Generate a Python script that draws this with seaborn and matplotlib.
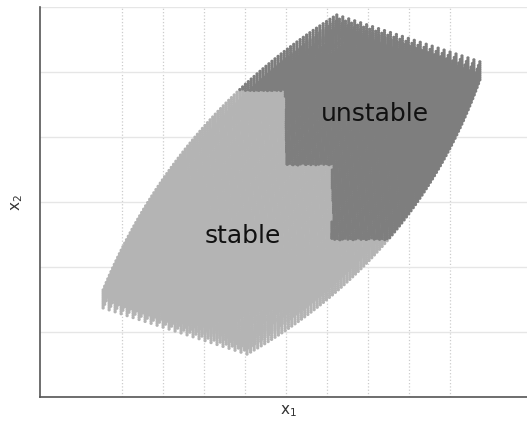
import numpy as np
import pandas as pd
import matplotlib
matplotlib.use("Agg")
import matplotlib.pyplot as plt
import seaborn as sns

# ---- data (data units: x1, x2) ----
corner_bl = [1.54, 1.37]
corner_br = [5.05, 0.66]
corner_tl = [7.24, 5.60]
corner_tr = [10.73, 4.88]
bulge_left = [-0.55, 0.28]
bulge_right = [0.64, -0.32]
n_s, n_t, n_u = 25, 95, 10
streak_height = 0.277
# staircase boundary of the unstable set: point is unstable if x>=xmin and y>=ymin for any pair
unstable_x_min = [-99.0, 5.98, 7.12]
unstable_y_min = [4.71, 3.57, 2.42]
region_names = ["stable", "unstable"]
region_colors = ["#b4b4b4", "#7e7e7e"]
label_x = [4.94, 8.17]
label_y = [2.37, 4.24]
x_ticks = [2, 3, 4, 5, 6, 7, 8, 9, 10]
y_ticks = [0, 1, 2, 3, 4, 5, 6]
x_limits = [0, 11.88]
y_limits = [0, 6]

# ---- build the lattice of states ----
s = np.linspace(0, 1, n_s)
t = np.linspace(0, 1, n_t)
u = np.linspace(0, 1, n_u)
S, T, U = np.meshgrid(s, t, u, indexing="ij")
S, T, U = S.ravel(), T.ravel(), U.ravel()
bl, br, tl, tr = map(np.array, (corner_bl, corner_br, corner_tl, corner_tr))
bgl, bgr = np.array(bulge_left), np.array(bulge_right)
w = 4 * T * (1 - T)
L = np.outer(1 - T, bl) + np.outer(T, tl) + np.outer(w, bgl)
R = np.outer(1 - T, br) + np.outer(T, tr) + np.outer(w, bgr)
P = (1 - S)[:, None] * L + S[:, None] * R
x1 = P[:, 0]
x2 = P[:, 1] + U * streak_height

unstable = np.zeros_like(x1, dtype=bool)
for xm, ym in zip(unstable_x_min, unstable_y_min):
    unstable |= (x1 >= xm) & (x2 >= ym)

df = pd.DataFrame({"x1": x1, "x2": x2,
                   "region": np.where(unstable, region_names[1], region_names[0])})
df["order"] = unstable.astype(int)
df = df.sort_values("order", kind="stable")

# ---- plot ----
sns.set_style("white")
fig = plt.figure(figsize=(5.27, 4.32), dpi=100)
ax = fig.add_axes([40 / 527, 35 / 432, 487 / 527, 390 / 432])

sns.scatterplot(data=df, x="x1", y="x2", hue="region",
                palette=dict(zip(region_names, region_colors)),
                s=5.5, linewidth=0, marker="o", legend=False, ax=ax,
                zorder=3)

ax.set_xlim(*x_limits)
ax.set_ylim(*y_limits)
ax.set_xticks(x_ticks)
ax.set_yticks(y_ticks)
ax.set_xticklabels([])
ax.set_yticklabels([])
ax.tick_params(direction="in", length=3, width=1, color="#444444")

ax.set_axisbelow(True)
ax.xaxis.grid(True, linestyle=":", linewidth=0.9, color="#cccccc")
ax.yaxis.grid(True, linestyle="-", linewidth=1.0, color="#e6e6e6")

for side in ["top", "right"]:
    ax.spines[side].set_visible(False)
for side in ["left", "bottom"]:
    ax.spines[side].set_color("#555555")
    ax.spines[side].set_linewidth(1.2)

for name, lx, ly in zip(region_names, label_x, label_y):
    ax.text(lx, ly, name, ha="center", va="baseline", fontsize=18,
            color="#111111", zorder=5)

ax.set_xlabel(r"$\mathregular{x_1}$", fontsize=11, color="#333333")
ax.set_ylabel(r"$\mathregular{x_2}$", fontsize=11, color="#333333")
ax.xaxis.set_label_coords((288 - 40) / 487, -6 / 390)
ax.yaxis.set_label_coords(-15 / 487, (397 - 203) / 390)

fig.savefig("out.png", dpi=100)
